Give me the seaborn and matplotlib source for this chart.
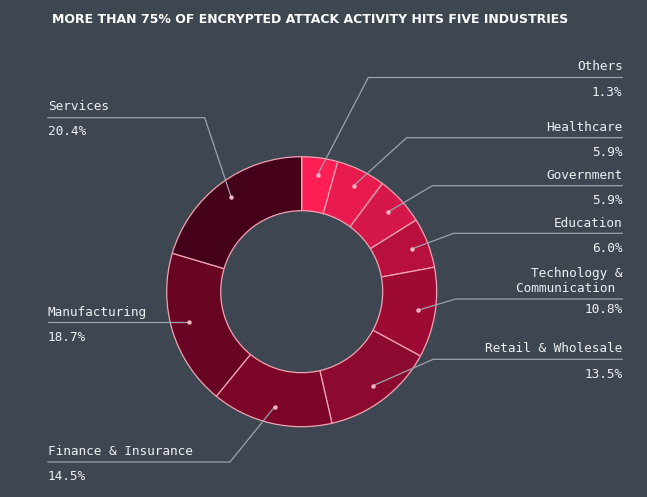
import numpy as np
import matplotlib
matplotlib.use("Agg")
import matplotlib.pyplot as plt
import seaborn as sns

# data (slice sizes as drawn, labels as printed)
industries = ["Others", "Healthcare", "Government", "Education",
              "Technology &\nCommunication ", "Retail & Wholesale",
              "Finance & Insurance", "Manufacturing", "Services"]
shares_drawn = [4.3, 5.9, 5.9, 6.0, 10.8, 13.5, 14.5, 18.7, 20.4]
share_labels = ["1.3%", "5.9%", "5.9%", "6.0%", "10.8%", "13.5%",
                "14.5%", "18.7%", "20.4%"]
slice_colors = ["#ff1f55", "#e81a4e", "#d5174a", "#b8103e", "#9d0b35",
                "#8c0a30", "#7c0628", "#680522", "#45001a"]

bg = "#3e4651"
txt = "#eef0f2"
lead = "#9aa2ab"

sns.set_theme(style="dark", rc={"figure.facecolor": bg, "axes.facecolor": bg})
plt.rcParams["font.family"] = ["DejaVu Sans"]

W, H = 647, 497
fig = plt.figure(figsize=(W / 100, H / 100), dpi=100)
ax = fig.add_axes([0, 0, 1, 1])

cx, cy = 301.7, H - 291.7
R, ring = 135, 54
wedges, _ = ax.pie(shares_drawn, colors=slice_colors, startangle=90,
                   counterclock=False, radius=R, center=(cx, cy),
                   wedgeprops=dict(width=ring, edgecolor="#f0a3b3", linewidth=0.9))
ax.set_xlim(0, W)
ax.set_ylim(0, H)
ax.set_aspect("equal")
ax.axis("off")

# label layout (pixel rows from top): name y, underline y, pct y, line end x
layout = [
    ("r", 66.7, 77.5, 92.3, 368.3),
    ("r", 127.3, 137.7, 152.7, 406.7),
    ("r", 175.3, 185.7, 200.7, 432.3),
    ("r", 223.3, 233.3, 248.3, 453.7),
    ("r", 281.0, 299.0, 309.8, 455.7),
    ("r", 349.0, 359.3, 374.3, 433.3),
    ("l", 451.7, 462.0, 476.5, 230.0),
    ("l", 312.3, 322.3, 337.3, None),
    ("l", 106.7, 117.7, 131.8, 204.7),
]
mono = "DejaVu Sans Mono"
for w, name, pct, (side, ny, ly, py, ex) in zip(wedges, industries, share_labels, layout):
    mid = np.deg2rad((w.theta1 + w.theta2) / 2)
    dx, dy = cx + 118 * np.cos(mid), cy + 118 * np.sin(mid)
    if ex is None:
        dy = H - ly
        ex = dx
    if side == "r":
        xs = [dx, ex, 622.5]
        tx, ha = 622.5, "right"
    else:
        xs = [dx, ex, 47.7]
        tx, ha = 47.7, "left"
    ax.plot(xs, [dy, H - ly, H - ly], color=lead, lw=0.9, zorder=3)
    ax.plot(dx, dy, "o", ms=2.2, color="#f4b8c4", zorder=4)
    ax.text(tx, H - ny, name, ha=ha, va="center", color=txt, family=mono,
            fontsize=9.2, linespacing=1.25)
    ax.text(tx, H - py, pct, ha=ha, va="center", color=txt, family=mono,
            fontsize=9.2)

ax.text(52, H - 19.5, "MORE THAN 75% OF ENCRYPTED ATTACK ACTIVITY HITS FIVE INDUSTRIES",
        ha="left", va="center", color="white", fontsize=9.0, fontweight="bold")

fig.savefig("out.png", dpi=100, facecolor=bg)
